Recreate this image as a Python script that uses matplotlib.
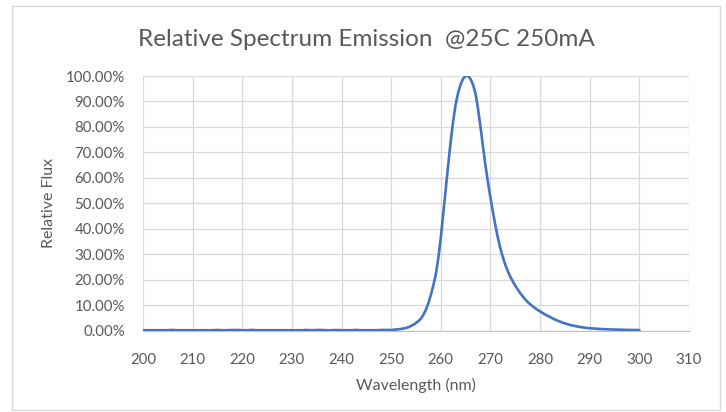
import matplotlib.pyplot as plt
from matplotlib.patches import Rectangle
from matplotlib.ticker import PercentFormatter

plt.rcParams['font.family'] = ['Lato', 'DejaVu Sans']

# baseline 200-249 nm (1 nm steps)
base_nm = list(range(200, 250))
base_flux = [0.001, 0.001, 0.001, 0.001, 0.001, 0.001, 0.002, 0.001, 0.001, 0.001,
             0.001, 0.001, 0.001, 0.001, 0.001, 0.002, 0.001, 0.001, 0.002, 0.002,
             0.001, 0.001, 0.002, 0.001, 0.001, 0.001, 0.001, 0.001, 0.001, 0.001,
             0.001, 0.001, 0.001, 0.002, 0.001, 0.002, 0.002, 0.001, 0.001, 0.002,
             0.001, 0.001, 0.001, 0.002, 0.001, 0.001, 0.001, 0.001, 0.002, 0.002]

# peak 250-285 nm (0.5 nm steps)
peak_nm = [250 + i * 0.5 for i in range(71)]
peak_flux = [0.002, 0.003, 0.004, 0.005, 0.006, 0.008, 0.010, 0.013, 0.018, 0.023,
             0.030, 0.037, 0.047, 0.062, 0.082, 0.108, 0.140, 0.178, 0.222, 0.285,
             0.365, 0.462, 0.558, 0.653, 0.745, 0.825, 0.890, 0.935, 0.968, 0.990,
             1.000, 1.000, 0.988, 0.965, 0.930, 0.870, 0.800, 0.722, 0.648, 0.582,
             0.522, 0.465, 0.412, 0.364, 0.322, 0.288, 0.258, 0.233, 0.211, 0.193,
             0.176, 0.161, 0.147, 0.134, 0.122, 0.112, 0.103, 0.095, 0.088, 0.081,
             0.075, 0.069, 0.063, 0.058, 0.053, 0.048, 0.043, 0.039, 0.035, 0.031,
             0.028]

# tail 286-300 nm (1 nm steps)
tail_nm = list(range(286, 301))
tail_flux = [0.022, 0.018, 0.014, 0.011, 0.009, 0.0075, 0.006, 0.005, 0.0042, 0.0036,
             0.003, 0.0026, 0.0022, 0.002, 0.0018]

wavelength = base_nm + peak_nm + tail_nm
flux = base_flux + peak_flux + tail_flux

x_ticks = list(range(200, 311, 10))
y_ticks = [i / 10 for i in range(0, 11)]

fig = plt.figure(figsize=(7.26, 4.12), dpi=100)
fig.patches.append(Rectangle((12 / 726, 2 / 412), 708 / 726, 404 / 412, transform=fig.transFigure,
                             fill=False, edgecolor='#d9d9d9', linewidth=1))
ax = fig.add_axes([143 / 726, 1 - 330.5 / 412, 546 / 726, 254.5 / 412])

ax.plot(wavelength, flux, color='#4472C4', linewidth=1.9, solid_capstyle='round',
        solid_joinstyle='round')

ax.set_xlim(200, 310)
ax.set_ylim(0, 1)
ax.set_xticks(x_ticks)
ax.set_yticks(y_ticks)
ax.yaxis.set_major_formatter(PercentFormatter(1.0, decimals=2))
ax.grid(True, color='#d9d9d9', linewidth=0.9)
ax.set_axisbelow(True)
for side in ['top', 'right', 'left']:
    ax.spines[side].set_visible(False)
ax.spines['bottom'].set_color('#bfbfbf')
ax.tick_params(length=0, labelsize=10.8, labelcolor='#595959')
ax.tick_params(axis='x', pad=16)
ax.tick_params(axis='y', pad=13)

ax.set_xlabel('Wavelength (nm)', fontsize=11.5, color='#595959', labelpad=8)
ax.set_ylabel('Relative Flux', fontsize=11.5, color='#595959', labelpad=7)
fig.text(0.505, 0.905, 'Relative Spectrum Emission  @25C 250mA', ha='center', va='center',
         fontsize=17.5, color='#595959')

fig.savefig('out.png', dpi=100)
